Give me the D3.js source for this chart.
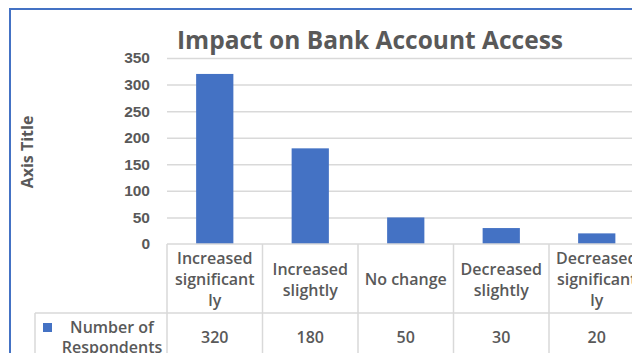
<!DOCTYPE html>
<html>
<head>
<meta charset="utf-8">
<script src="https://cdn.jsdelivr.net/npm/d3@7"></script>
<style>
  body { margin: 0; background: #fff; }
  svg { display: block; font-family: "Open Sans", "Noto Sans", sans-serif; }
</style>
</head>
<body>
<div id="chart"></div>
<script>
// data
const categories = ["Increased significantly", "Increased slightly", "No change", "Decreased slightly", "Decreased significantly"];
const categoryLines = [["Increased", "significant", "ly"], ["Increased", "slightly"], ["No change"], ["Decreased", "slightly"], ["Decreased", "significant", "ly"]];
const respondents = [320, 180, 50, 30, 20];
const yTicks = [0, 50, 100, 150, 200, 250, 300, 350];
const seriesName = ["Number of", "Respondents"];

const W = 632, H = 353;
const textColor = "#595959";
const gridColor = "#d9d9d9";
const barColor = "#4472C4";

const svg = d3.select("#chart").append("svg")
  .attr("width", W)
  .attr("height", H);

// outer chart border
svg.append("rect")
  .attr("x", 10).attr("y", 9)
  .attr("width", 700).attr("height", 400)
  .attr("fill", "none")
  .attr("stroke", barColor)
  .attr("stroke-width", 2);

const plotLeft = 167, plotRight = 644.5;
const plotTop = 58, plotBottom = 244;

const x = d3.scaleBand()
  .domain(categories)
  .range([plotLeft, plotRight])
  .paddingInner(0.61)
  .paddingOuter(0.305);
const step = x.step();
const y = d3.scaleLinear().domain([0, 350]).range([plotBottom, plotTop]);

// gridlines
const grid = svg.append("g")
  .attr("transform", `translate(${plotLeft},0)`)
  .call(d3.axisLeft(y).tickValues(yTicks.filter(d => d > 0)).tickSize(-(W - plotLeft)).tickFormat(""));
grid.select(".domain").remove();
grid.selectAll(".tick line").attr("stroke", gridColor).attr("stroke-width", 1.5);

// y tick labels
const yAxis = svg.append("g")
  .attr("transform", "translate(150,0)")
  .call(d3.axisLeft(y).tickValues(yTicks).tickSize(0).tickPadding(0));
yAxis.select(".domain").remove();
yAxis.selectAll(".tick text")
  .attr("fill", textColor)
  .style("font-size", "15.5px")
  .style("font-weight", 600);

// axis title
svg.append("text")
  .attr("transform", "translate(27,152) rotate(-90)")
  .attr("text-anchor", "middle")
  .attr("dy", "0.35em")
  .attr("fill", textColor)
  .style("font-size", "16px")
  .style("font-weight", 700)
  .text("Axis Title");

// chart title
svg.append("text")
  .attr("x", 370).attr("y", 49)
  .attr("text-anchor", "middle")
  .attr("fill", textColor)
  .style("font-size", "24.5px")
  .style("font-weight", 700)
  .text("Impact on Bank Account Access");

// bars
svg.selectAll(".bar")
  .data(respondents)
  .enter()
  .append("rect")
  .attr("class", "bar")
  .attr("x", (d, i) => x(categories[i]))
  .attr("y", d => y(d))
  .attr("width", x.bandwidth())
  .attr("height", d => y(0) - y(d))
  .attr("fill", barColor);

// data table
const tableTop = plotBottom, rowSplit = 313, tableBottom = 400, tableLeft = 35;
const lines = svg.append("g").attr("stroke", gridColor).attr("stroke-width", 1.5);
lines.append("line").attr("x1", plotLeft).attr("x2", W).attr("y1", tableTop).attr("y2", tableTop);
lines.append("line").attr("x1", tableLeft).attr("x2", W).attr("y1", rowSplit).attr("y2", rowSplit);
lines.append("line").attr("x1", tableLeft).attr("x2", tableLeft).attr("y1", rowSplit).attr("y2", tableBottom);
categories.forEach((c, i) => {
  const xl = plotLeft + i * step;
  lines.append("line").attr("x1", xl).attr("x2", xl).attr("y1", tableTop).attr("y2", tableBottom);
});

const headerMid = (tableTop + rowSplit) / 2 + 1;
const lineH = 21;
categories.forEach((c, i) => {
  const cx = x(c) + x.bandwidth() / 2;
  const ls = categoryLines[i];
  const t = svg.append("text")
    .attr("text-anchor", "middle")
    .attr("fill", textColor)
    .style("font-size", "16px")
    .style("font-weight", 600);
  ls.forEach((l, j) => {
    t.append("tspan")
      .attr("x", cx)
      .attr("y", headerMid + (j - (ls.length - 1) / 2) * lineH)
      .attr("dy", "0.35em")
      .text(l);
  });
  svg.append("text")
    .attr("x", cx)
    .attr("y", 337)
    .attr("dy", "0.35em")
    .attr("text-anchor", "middle")
    .attr("fill", textColor)
    .style("font-size", "16px")
    .style("font-weight", 600)
    .text(respondents[i]);
});

// legend key + series name
svg.append("rect")
  .attr("x", 43).attr("y", 323)
  .attr("width", 9).attr("height", 9)
  .attr("fill", barColor);
const sn = svg.append("text")
  .attr("text-anchor", "middle")
  .attr("fill", textColor)
  .style("font-size", "16px")
  .style("font-weight", 600);
seriesName.forEach((l, j) => {
  sn.append("tspan")
    .attr("x", 112)
    .attr("y", 327 + j * 20)
    .attr("dy", "0.35em")
    .text(l);
});
</script>
</body>
</html>
